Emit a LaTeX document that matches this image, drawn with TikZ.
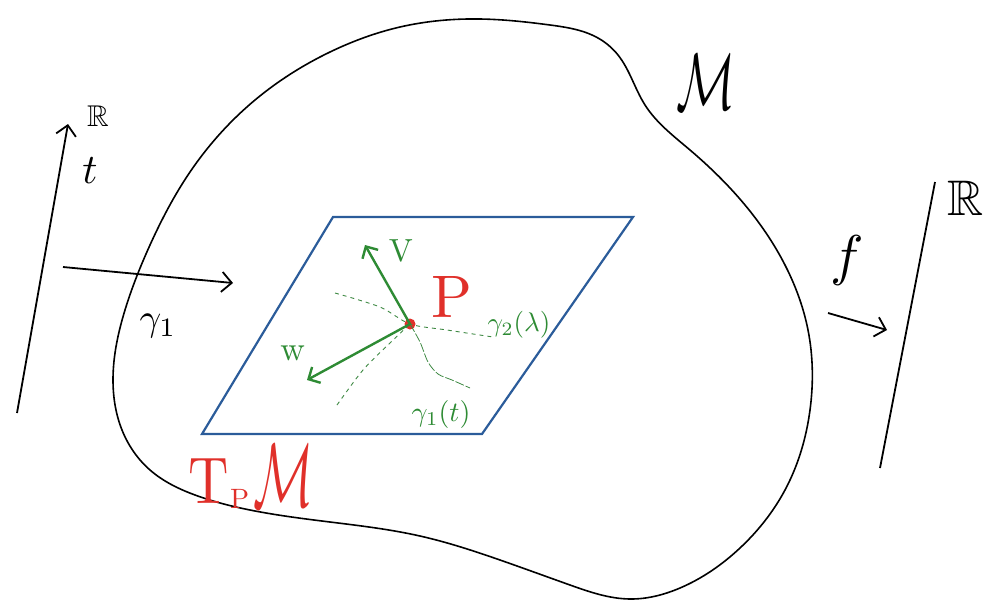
\documentclass[tikz,border=0pt]{standalone}
\usepackage{amsmath,amssymb}
\usepackage{graphicx}
\usetikzlibrary{arrows.meta,hobby}
\definecolor{pblue}{HTML}{2B5C9A}
\definecolor{pgreen}{HTML}{2E8B34}
\definecolor{pred}{HTML}{E0302A}
\tikzset{
  blobline/.style={line width=1.6pt, black},
  axisline/.style={line width=1.8pt, black},
  maparrow/.style={line width=1.8pt, black, -{Straight Barb[length=10pt,width=20pt,line width=1.8pt]}},
  plane/.style={line width=2.2pt, pblue, line join=miter},
  vec/.style={line width=2.4pt, pgreen, -{Straight Barb[length=9pt,width=18pt,line width=2.4pt]}},
  dashcurve/.style={line width=0.9pt, pgreen!80!gray, dash pattern=on 4pt off 4pt},
  lbl/.style={inner sep=0pt, outer sep=0pt}
}
\begin{document}
\begin{tikzpicture}[x=1pt,y=-1pt]
\useasboundingbox (0,0) rectangle (992,603);
% manifold outline
\draw[blobline, use Hobby shortcut, closed=true]
 (150,470) .. (122,430) .. (113,380) .. (125,310) .. (150,245) .. (190,172) .. (255,100)
 .. (330,52) .. (400,27) .. (480,19) .. (550,25) .. (598,38) .. (618,55) .. (645,105)
 .. (690,150) .. (745,205) .. (785,265) .. (808,330) .. (810,410) .. (785,490)
 .. (740,548) .. (680,588) .. (630,599) .. (570,585) .. (500,560) .. (420,536)
 .. (330,522) .. (250,510) .. (195,495);
\node[lbl] (Mlab) at (706,82) {\scalebox{4.9}[8]{$\mathcal{M}$}};
% tangent plane
\coordinate (q1) at (333,217);
\coordinate (q2) at (633,217);
\coordinate (q3) at (482,434);
\coordinate (q4) at (202,434);
\draw[plane] (q1) -- (q2) -- (q3) -- (q4) -- cycle;
\node[lbl, text=pred, anchor=base west] (Tlab) at (188,503) {\scalebox{5.6}[6.6]{$\mathrm{T}$}};
\node[lbl, text=pred, anchor=base west] (Psub) at (230,508) {\scalebox{2.8}{$\mathrm{P}$}};
\node[lbl, text=pred, anchor=base west] (Msub) at (253,506) {\scalebox{5}[9]{$\mathcal{M}$}};
% point p
\node[circle, fill=pred, inner sep=0pt, minimum size=11pt] (P) at (410,324) {};
\node[lbl, text=pred] (Plab) at (452,297) {\scalebox{6}{$\mathrm{P}$}};
% curves through p
\draw[dashcurve] plot[smooth] coordinates {(335,293) (380,307) (410,324) (447,330) (493,337)};
\draw[dashcurve] plot[smooth] coordinates {(337,405) (363,370) (390,343) (410,324)};
\draw[line width=0.8pt, pgreen!80!gray, dash pattern=on 9pt off 2pt] plot[smooth] coordinates {(410,324) (420,342) (428,362) (438,374) (452,380) (470,388)};
% vectors
\coordinate (vtip) at (365,245);
\coordinate (wtip) at (307,380);
\draw[vec] (P.center) -- (vtip);
\draw[vec] (P.center) -- (wtip);
\node[lbl, text=pgreen] (Vlab) at (401,251) {\scalebox{3.2}{$\mathrm{V}$}};
\node[lbl, text=pgreen] (Wlab) at (293,353) {\scalebox{3.4}{$\mathrm{w}$}};
\node[lbl, text=pgreen] (g2lab) at (519,325) {\scalebox{2.7}{$\gamma_2(\lambda)$}};
\node[lbl, text=pgreen] (g1lab) at (441,414) {\scalebox{2.8}{$\gamma_1(t)$}};
% left real line
\coordinate (tA) at (17,413);
\coordinate (tB) at (68,124);
\draw[maparrow] (tA) -- (tB);
\node[lbl] (Rleft) at (98,116) {\scalebox{3}{$\mathbb{R}$}};
\node[lbl] (tlab) at (90,171) {\scalebox{4.2}{$t$}};
\coordinate (gA) at (63,267);
\coordinate (gB) at (233,283);
\draw[maparrow] (gA) -- (gB);
\node[lbl] (g1left) at (158,326) {\scalebox{3.8}{$\gamma_1$}};
% right real line
\coordinate (rA) at (880,468);
\coordinate (rB) at (935,182);
\draw[axisline] (rA) -- (rB);
\node[lbl] (Rright) at (966,198) {\scalebox{5}{$\mathbb{R}$}};
\coordinate (fA) at (828,313);
\coordinate (fB) at (887,330);
\draw[maparrow] (fA) -- (fB);
\node[lbl] (flab) at (847,260) {\scalebox{5.6}{$f$}};
\end{tikzpicture}
\end{document}
